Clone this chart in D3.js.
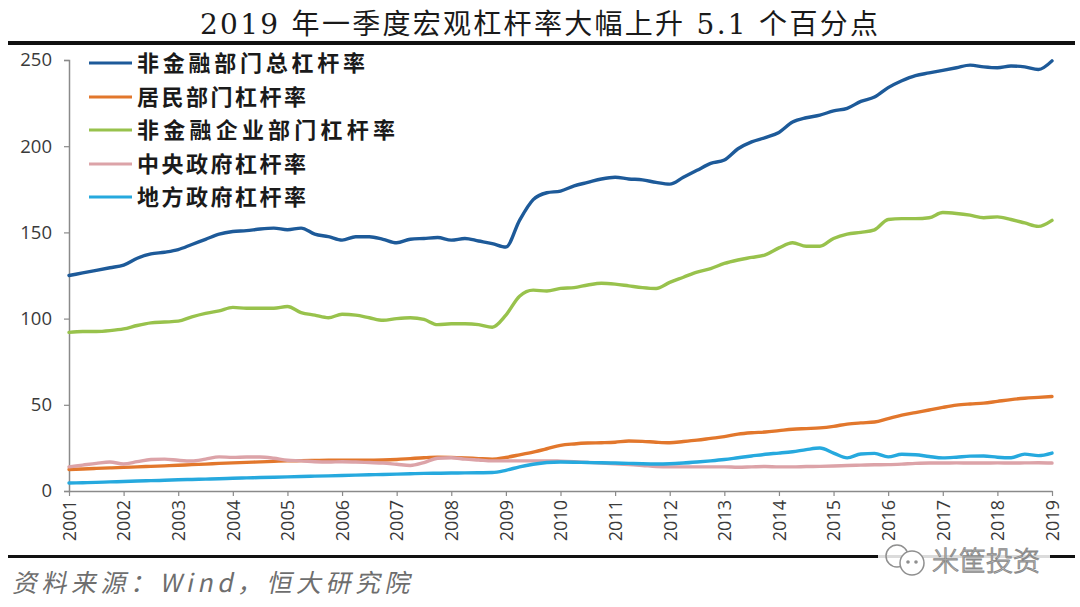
<!DOCTYPE html>
<html>
<head>
<meta charset="utf-8">
<script src="https://cdn.jsdelivr.net/npm/d3@7"></script>
<style>
  html, body { margin: 0; padding: 0; background: #fff; }
  svg { display: block; }
</style>
</head>
<body>
<svg id="chart" width="1080" height="607"></svg>
<script>
// ---------- DATA ----------
const title = "2019 年一季度宏观杠杆率大幅上升 5.1 个百分点";
const sourceText = "资料来源：Wind，恒大研究院";
const watermark = "米筐投资";

const quarters = [
  "2001Q1","2001Q2","2001Q3","2001Q4","2002Q1","2002Q2","2002Q3","2002Q4",
  "2003Q1","2003Q2","2003Q3","2003Q4","2004Q1","2004Q2","2004Q3","2004Q4",
  "2005Q1","2005Q2","2005Q3","2005Q4","2006Q1","2006Q2","2006Q3","2006Q4",
  "2007Q1","2007Q2","2007Q3","2007Q4","2008Q1","2008Q2","2008Q3","2008Q4",
  "2009Q1","2009Q2","2009Q3","2009Q4","2010Q1","2010Q2","2010Q3","2010Q4",
  "2011Q1","2011Q2","2011Q3","2011Q4","2012Q1","2012Q2","2012Q3","2012Q4",
  "2013Q1","2013Q2","2013Q3","2013Q4","2014Q1","2014Q2","2014Q3","2014Q4",
  "2015Q1","2015Q2","2015Q3","2015Q4","2016Q1","2016Q2","2016Q3","2016Q4",
  "2017Q1","2017Q2","2017Q3","2017Q4","2018Q1","2018Q2","2018Q3","2018Q4",
  "2019Q1"
];
const yearTicks = ["2001","2002","2003","2004","2005","2006","2007","2008","2009","2010",
                   "2011","2012","2013","2014","2015","2016","2017","2018","2019"];
const yTicks = [0, 50, 100, 150, 200, 250];

const seriesNames = ["非金融部门总杠杆率","居民部门杠杆率","非金融企业部门杠杆率","中央政府杠杆率","地方政府杠杆率"];

const totalNonFin = [
  125,126.5,128,129.5, 131,135,137.5,138.5, 140,143,146,149, 150.5,151,152,152.5,
  151.5,152.5,149,147.5, 145.5,147.5,147.5,146, 144,146,146.5,147, 145.5,146.5,145,143.5,
  141.5,157,169,173, 174,177,179,181, 182,181,180.5,179, 178,182,186,190,
  192,198.5,202.5,205, 208,214,216.5,218, 220.5,222,226,228.5, 234,238,241,242.5,
  244,245.5,247,246, 245.5,246.5,246,244.5, 249.5
];
const household = [
  12.5,12.8,13.1,13.4, 13.7,14,14.3,14.6, 14.9,15.3,15.6,16, 16.3,16.6,16.9,17.2,
  17.5,17.6,17.7,17.8, 17.8,17.8,17.9,18, 18.3,18.8,19.3,19.6, 19.5,19.2,18.8,18.5,
  19.5,21,22.6,24.5, 26.5,27.3,27.8,28, 28.3,29,28.8,28.3, 28,28.7,29.5,30.5,
  31.5,33,33.8,34.2, 35,35.8,36.2,36.6, 37.5,38.8,39.5,40, 42,44,45.5,47,
  48.5,49.8,50.5,51, 52,53,53.8,54.3, 54.8
];
const corporate = [
  92,92.5,92.5,93, 94,96,97.5,98, 98.5,101,103,104.5, 106.5,106,106,106,
  107,103.5,102,100.5, 102.5,102,100.5,99, 100,100.5,99.5,96.5, 97,97,96.5,95,
  102,113,116.5,116, 117.5,118,119.5,120.5, 120,119,118,117.5, 121,124,127,129,
  132,134,135.5,137, 141,144,142,142, 146.5,149,150,151.5, 157.5,158,158,158.5,
  161.5,161,160,158.5, 159,157.5,155.5,153.5, 157
];
const centralGov = [
  14,15,16,16.8, 15.7,17,18.3,18.5, 17.8,17.4,18.5,19.8, 19.5,19.7,19.7,19,
  17.8,17.5,17,16.8, 17,16.8,16.5,16.2, 15.5,14.8,16.5,19, 19.3,18.5,18,17.5,
  17.5,17.5,17.5,17.5, 17.3,17,16.6,16.2, 15.8,15.3,14.8,14.2, 14,14,14,14,
  14,13.8,14,14.2, 14,14,14.2,14.3, 14.5,14.8,15,15.2, 15.3,15.6,16,16.2,
  16.2,16.3,16.2,16.2, 16.3,16.2,16.3,16.4, 16.2
];
const localGov = [
  4.6,4.8,5,5.3, 5.5,5.8,6,6.2, 6.5,6.7,6.9,7.1, 7.4,7.6,7.8,8,
  8.2,8.4,8.6,8.8, 9,9.2,9.4,9.6, 9.8,10,10.2,10.3, 10.4,10.5,10.6,10.7,
  12,14,15.5,16.5, 16.8,16.7,16.5,16.4, 16.2,16,15.8,15.7, 15.8,16.2,16.8,17.5,
  18.3,19.3,20.3,21.3, 22,22.8,24,24.9, 22,19.2,21.5,21.8, 19.8,21.3,21,20,
  19.2,19.6,20.2,20.3, 19.6,19.3,21.4,20.5, 22
];

const colors = ["#1d5a99", "#e2772c", "#98c24c", "#dca3a8", "#26a9de"];

// ---------- DRAW ----------
const svg = d3.select("#chart");
const cjk = "'Noto Sans CJK SC', 'Noto Sans', sans-serif";

const x = d3.scalePoint().domain(quarters).range([69, 1052]);
const y = d3.scaleLinear().domain([0, 250]).range([491, 60]);

// Title
svg.append("text")
  .attr("x", 200).attr("y", 34)
  .attr("textLength", 678).attr("lengthAdjust", "spacing")
  .style("font-family", "'DejaVu Serif', 'Noto Sans CJK SC', serif")
  .style("font-size", "28px").style("fill", "#1a1a1a")
  .text(title);

// Top and bottom rules
svg.append("rect").attr("x", 8).attr("y", 41).attr("width", 1067).attr("height", 4).attr("fill", "#111");
svg.append("rect").attr("x", 8).attr("y", 555).attr("width", 1067).attr("height", 3).attr("fill", "#111");

// Y axis
const yAxis = d3.axisLeft(y).tickValues(yTicks).tickSize(5).tickPadding(12);
const gy = svg.append("g").attr("transform", "translate(69,0)").call(yAxis);
gy.select(".domain").attr("stroke", "#8a8a8a").attr("stroke-width", 1.5);
gy.selectAll(".tick line").attr("stroke", "#8a8a8a").attr("stroke-width", 1.2);
gy.selectAll(".tick text")
  .style("font-family", "'Open Sans', 'Liberation Sans', sans-serif")
  .style("font-size", "18.5px").style("fill", "#3a3a3a");

// X axis
const xAxis = d3.axisBottom(x)
  .tickValues(yearTicks.map(d => d + "Q1"))
  .tickFormat(d => d.slice(0, 4))
  .tickSize(5).tickSizeOuter(0);
const gx = svg.append("g").attr("transform", "translate(0,491)").call(xAxis);
gx.select(".domain").attr("stroke", "#8a8a8a").attr("stroke-width", 1.5);
gx.selectAll(".tick line").attr("stroke", "#8a8a8a").attr("stroke-width", 1.2);
gx.selectAll(".tick text")
  .attr("transform", "rotate(-90)")
  .attr("x", -9).attr("y", 0).attr("dy", "0.35em")
  .style("text-anchor", "end")
  .style("font-family", "'Open Sans', 'Liberation Sans', sans-serif")
  .style("font-size", "18px").style("fill", "#3a3a3a");

// Lines
const allSeries = [totalNonFin, household, corporate, centralGov, localGov];
const line = d3.line()
  .x((d, i) => x(quarters[i]))
  .y(d => y(d))
  .curve(d3.curveMonotoneX);

allSeries.forEach((s, k) => {
  svg.append("path")
    .datum(s)
    .attr("d", line)
    .attr("fill", "none")
    .attr("stroke", colors[k])
    .attr("stroke-width", 3.4)
    .attr("stroke-linejoin", "round")
    .attr("stroke-linecap", "round");
});

// Legend
const legendY = [63, 97, 130, 164, 197];
const legendLen = [228, 169, 258, 169, 169];
seriesNames.forEach((name, k) => {
  svg.append("line")
    .attr("x1", 89).attr("x2", 132)
    .attr("y1", legendY[k]).attr("y2", legendY[k])
    .attr("stroke", colors[k]).attr("stroke-width", 3.2);
  svg.append("text")
    .attr("x", 137).attr("y", legendY[k] + 8)
    .attr("textLength", legendLen[k]).attr("lengthAdjust", "spacing")
    .style("font-family", cjk).style("font-weight", 700)
    .style("font-size", "22px").style("fill", "#1a1a1a")
    .text(name);
});

// Source text
svg.append("text")
  .attr("transform", "translate(12,592) skewX(-12)")
  .style("font-family", cjk)
  .style("font-size", "25px").style("letter-spacing", "4.5px").style("fill", "#6e6e6e")
  .text(sourceText);

// Watermark
const wm = svg.append("g");
wm.append("rect").attr("x", 878).attr("y", 540).attr("width", 172).attr("height", 38).attr("fill", "#fff").attr("opacity", 0.85);
wm.append("circle").attr("cx", 897).attr("cy", 556).attr("r", 11).attr("fill", "none").attr("stroke", "#8f8f8f").attr("stroke-width", 1.5);
wm.append("circle").attr("cx", 912).attr("cy", 563).attr("r", 12).attr("fill", "#fff").attr("stroke", "#8f8f8f").attr("stroke-width", 1.5);
wm.append("circle").attr("cx", 908).attr("cy", 562).attr("r", 1.8).attr("fill", "#8f8f8f");
wm.append("circle").attr("cx", 916).attr("cy", 562).attr("r", 1.8).attr("fill", "#8f8f8f");
wm.append("text")
  .attr("x", 932).attr("y", 571)
  .style("font-family", cjk).style("font-size", "27px").style("font-weight", 300)
  .style("fill", "#fff").style("stroke", "#8a8a8a").style("stroke-width", 1)
  .text(watermark);
</script>
</body>
</html>
